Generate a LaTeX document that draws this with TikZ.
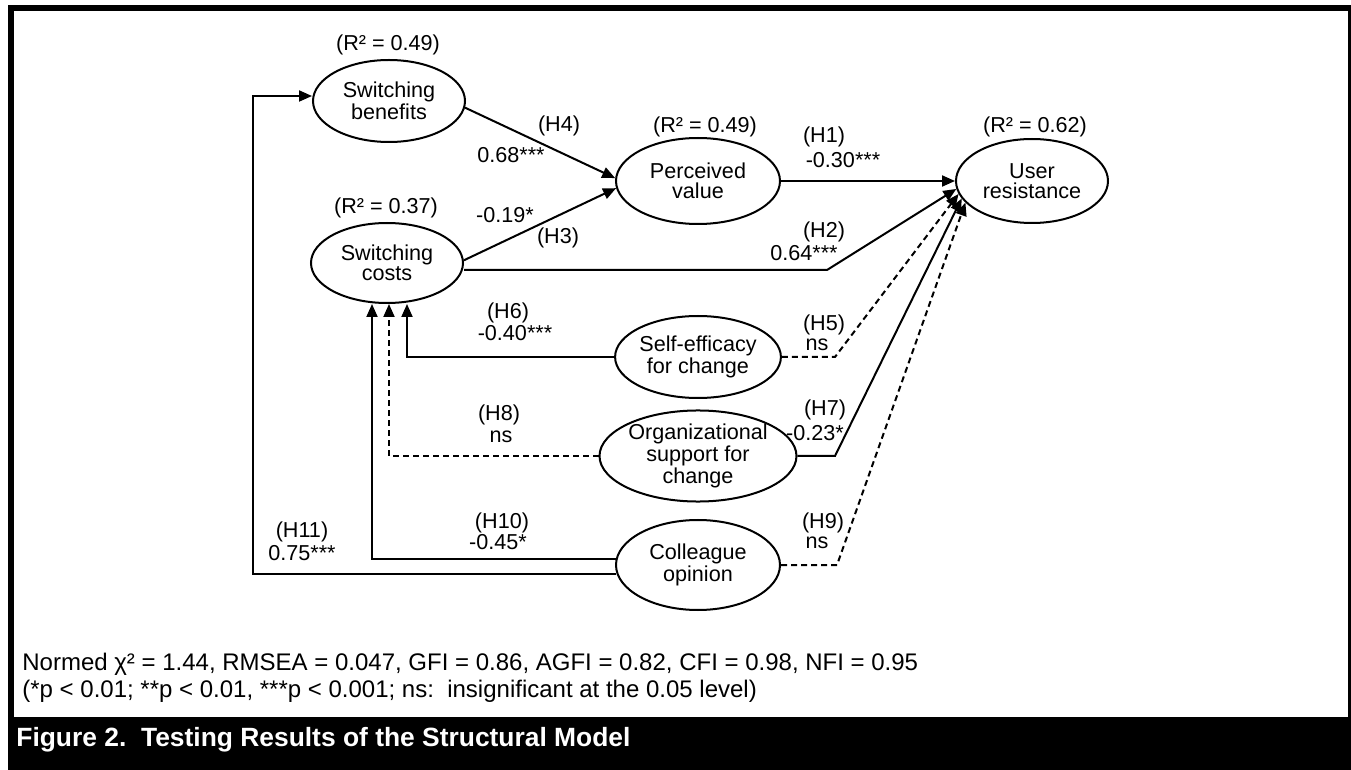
\documentclass[tikz,border=0pt]{standalone}
\usepackage{fontspec}
\setmainfont{Liberation Sans}
\usetikzlibrary{shapes.geometric,arrows.meta}
\begin{document}
\begin{tikzpicture}[x=0.5pt,y=-0.5pt,
  font=\fontsize{10.8}{10}\selectfont,
  construct/.style={ellipse, draw=black, line width=1pt, fill=white, inner sep=0pt, align=center},
  lbl/.style={inner sep=0pt},
  note/.style={anchor=west, inner sep=0pt, font=\fontsize{12}{12}\selectfont},
  sigline/.style={line width=1pt, -{Triangle[length=6.5pt,width=5.5pt]}},
  nsline/.style={sigline, dash pattern=on 3pt off 2pt}]
\useasboundingbox (0,0) rectangle (1351,770);
\fill[white] (0,0) rectangle (1351,770);
\fill[black] (8,5) rectangle (1351,11);
\fill[black] (8,5) rectangle (14,770);
\fill[black] (1348,5) rectangle (1351,770);
\fill[black] (8,717) rectangle (1351,770);
\node [construct, minimum width=76pt, minimum height=41pt] (sb) at (389,101) {Switching\\benefits};
\node [construct, minimum width=76pt, minimum height=40pt] (sc) at (387,263) {Switching\\costs};
\node [construct, minimum width=82pt, minimum height=43pt] (pv) at (698,181) {Perceived\\value};
\node [construct, minimum width=76pt, minimum height=42pt] (ur) at (1032,181) {User\\resistance};
\node [construct, minimum width=82pt, minimum height=41pt] (se) at (698,357) {Self-efficacy\\for change};
\node [construct, minimum width=82pt, minimum height=45pt] (os) at (698,456) {Organizational\\support for\\change};
\node [construct, minimum width=82pt, minimum height=45pt] (co) at (698,565) {Colleague\\opinion};
\node [lbl] (rsb) at (388,45) {(R² = 0.49)};
\node [lbl] (rsc) at (386,208) {(R² = 0.37)};
\node [lbl] (rpv) at (705,127) {(R² = 0.49)};
\node [lbl] (rur) at (1035,127) {(R² = 0.62)};
\node [lbl] (h4) at (559,126) {(H4)};
\node [lbl] (v4) at (511,155) {0.68***};
\node [lbl] (v3) at (505,215) {-0.19*};
\node [lbl] (h3) at (558,238) {(H3)};
\node [lbl] (h1) at (824,137) {(H1)};
\node [lbl] (v1) at (843,160) {-0.30***};
\node [lbl] (h2) at (824,232) {(H2)};
\node [lbl] (v2) at (804,253) {0.64***};
\node [lbl] (h6) at (508,313) {(H6)};
\node [lbl] (v6) at (515,333) {-0.40***};
\node [lbl] (h5) at (824,325) {(H5)};
\node [lbl] (v5) at (817,345) {ns};
\node [lbl] (h8) at (499,415) {(H8)};
\node [lbl] (v8) at (501,437) {ns};
\node [lbl] (h7) at (825,410) {(H7)};
\node [lbl] (v7) at (815,433) {-0.23*};
\node [lbl] (h11) at (302,532) {(H11)};
\node [lbl] (v11) at (302,553) {0.75***};
\node [lbl] (h10) at (502,523) {(H10)};
\node [lbl] (v10) at (498,542) {-0.45*};
\node [lbl] (h9) at (823,523) {(H9)};
\node [lbl] (v9) at (817,543) {ns};
\coordinate (k2) at (827,270);
\coordinate (k5) at (835,357);
\coordinate (k7) at (835,456);
\coordinate (k9) at (837,565);
\coordinate (k11) at (253,96);
\draw [sigline] (sb.-5) -- (pv.178);
\draw [sigline] (sc.2) -- (pv.185);
\draw [sigline] (pv.east) -- (ur.west);
\draw [sigline] (sc.east |- k2) -- (k2) -- (ur.186);
\draw [nsline] (se.east) -- (k5) -- (ur.190);
\draw [sigline] (os.east) -- (k7) -- (ur.194);
\draw [nsline] (co.east) -- (k9) -- (ur.198);
\draw [sigline] (se.west) -| ([xshift=10pt]sc.south);
\draw [nsline] (os.west) -| ([xshift=1pt]sc.south);
\draw [sigline] (co.176) -| ([xshift=-7.5pt]sc.south);
\draw [sigline] (co.186) -| (k11) -- (sb.west |- k11);
\node [note] (fit) at (22,664) {Normed χ² = 1.44, RMSEA = 0.047, GFI = 0.86, AGFI = 0.82, CFI = 0.98, NFI = 0.95};
\node [note] (sig) at (22,691) {(*p < 0.01; **p < 0.01, ***p < 0.001; ns:\ \ insignificant at the 0.05 level)};
\node [note, text=white, font=\fontsize{13.2}{13}\selectfont\bfseries] (cap) at (16,740) {Figure 2.\ \ Testing Results of the Structural Model};
\end{tikzpicture}
\end{document}
